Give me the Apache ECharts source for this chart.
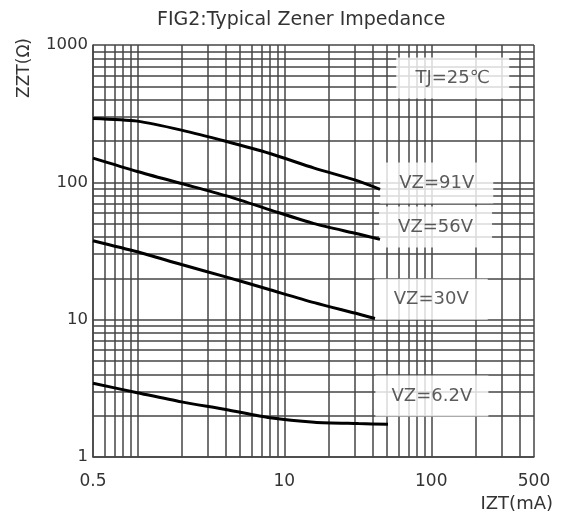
<!DOCTYPE html>
<html>
<head>
<meta charset="utf-8">
<script src="https://cdn.jsdelivr.net/npm/echarts@6/dist/echarts.min.js"></script>
<style>
html,body{margin:0;padding:0;background:#fff;}
#chart{width:564px;height:518px;}
</style>
</head>
<body>
<div id="chart"></div>
<script>
// ---- data ----
const titleText = 'FIG2:Typical Zener Impedance';
const xAxisTitle = 'IZT(mA)';
const yAxisTitle = 'ZZT(\u03A9)';
const xTickLabels = [0.5, 10, 100, 500];
const yTickLabels = [1, 10, 100, 1000];
const xGridValues = [0.5, 0.6, 0.7, 0.8, 0.9, 1, 2, 3, 4, 5, 6, 7, 8, 9, 10, 20, 30, 40, 50, 60, 70, 80, 90, 100, 200, 300, 400, 500];
const yGridValues = [1, 2, 3, 4, 5, 6, 7, 8, 9, 10, 20, 30, 40, 50, 60, 70, 80, 90, 100, 200, 300, 400, 500, 600, 700, 800, 900, 1000];

const vz91 = [[0.5, 292], [1, 279], [2, 240], [4, 199], [8, 162], [16, 127], [32, 102], [44.8, 89]];
const vz56 = [[0.5, 150], [1, 120], [2, 98], [4, 80], [8, 63], [16, 50], [32, 42], [44.8, 38.4]];
const vz30 = [[0.5, 37.6], [1, 31.2], [2, 25.2], [4, 20.5], [8, 16.5], [16, 13.3], [32, 11.0], [41.4, 10.2]];
const vz62 = [[0.5, 3.44], [1, 2.94], [2, 2.52], [4, 2.22], [8, 1.93], [16, 1.79], [32, 1.75], [50.8, 1.73]];

const annotationTexts = ['TJ=25\u2103', 'VZ=91V', 'VZ=56V', 'VZ=30V', 'VZ=6.2V'];
const annotationX = [140, 109, 107, 100, 101];
const annotationY = [575, 99, 47.2, 14.1, 2.78];

// ---- chart ----
const FONT = 'DejaVu Sans';
const TEXT = '#333';
const GRIDC = '#444';

const chart = echarts.init(document.getElementById('chart'), null, {renderer: 'canvas'});

function fmt(v) { return String(+Number(v).toPrecision(6)); }

const gridMarkData = xGridValues.map(v => ({xAxis: v})).concat(yGridValues.map(v => ({yAxis: v})));

function curve(name, data) {
  return {
    name: name, type: 'line', data: data, smooth: 0.25,
    showSymbol: false, symbol: 'none',
    lineStyle: {color: '#000', width: 3}, z: 5, silent: true, animation: false
  };
}

const option = {
  animation: false,
  backgroundColor: '#fff',
  title: {
    text: titleText, left: 152, top: 6,
    textStyle: {fontFamily: FONT, fontSize: 19, fontWeight: 'normal', color: TEXT}
  },
  grid: {left: 93, right: 30, top: 45, bottom: 61, containLabel: false},
  xAxis: {
    type: 'log', logBase: 10, min: 0.5, max: 500,
    axisLine: {show: true, lineStyle: {color: GRIDC, width: 1.5}},
    axisTick: {show: false},
    splitLine: {show: false},
    minorSplitLine: {show: false},
    axisLabel: {
      customValues: xTickLabels, formatter: fmt, color: TEXT, fontSize: 17, fontFamily: FONT, margin: 16,
      showMinLabel: true, showMaxLabel: true
    }
  },
  yAxis: {
    type: 'log', logBase: 10, min: 1, max: 1000,
    axisLine: {show: true, lineStyle: {color: GRIDC, width: 1.5}},
    axisTick: {show: false},
    splitLine: {show: false},
    axisLabel: {
      customValues: yTickLabels, formatter: fmt, color: TEXT, fontSize: 16.5, fontFamily: FONT, margin: 5,
      showMinLabel: true, showMaxLabel: true
    }
  },
  graphic: [
    {type: 'text', left: 16, top: 38, rotation: Math.PI / 2,
      style: {text: yAxisTitle, fill: TEXT, font: '17px "DejaVu Sans"'}},
    {type: 'text', right: 11, top: 495,
      style: {text: xAxisTitle, fill: TEXT, font: '18px "DejaVu Sans"'}}
  ],
  series: [
    {
      name: 'grid', type: 'line', data: [], silent: true, z: 1, animation: false,
      markLine: {
        z: 1, silent: true, symbol: ['none', 'none'], animation: false,
        label: {show: false},
        lineStyle: {type: 'solid', color: GRIDC, width: 1.5},
        emphasis: {disabled: true},
        data: gridMarkData
      }
    },
    {
      name: 'labels', type: 'scatter', z: 3, silent: true, animation: false,
      symbolSize: 0,
      data: annotationTexts.map((t, i) => [annotationX[i], annotationY[i], t]),
      label: {
        show: true, position: 'inside', formatter: p => p.data[2],
        color: TEXT, fontSize: 18, fontFamily: FONT,
        backgroundColor: '#fff', width: 113, height: 41, lineHeight: 41,
        align: 'center', verticalAlign: 'middle', padding: 0
      }
    },
    curve('VZ=91V', vz91),
    curve('VZ=56V', vz56),
    curve('VZ=30V', vz30),
    curve('VZ=6.2V', vz62)
  ]
};
chart.setOption(option);
</script>
</body>
</html>
